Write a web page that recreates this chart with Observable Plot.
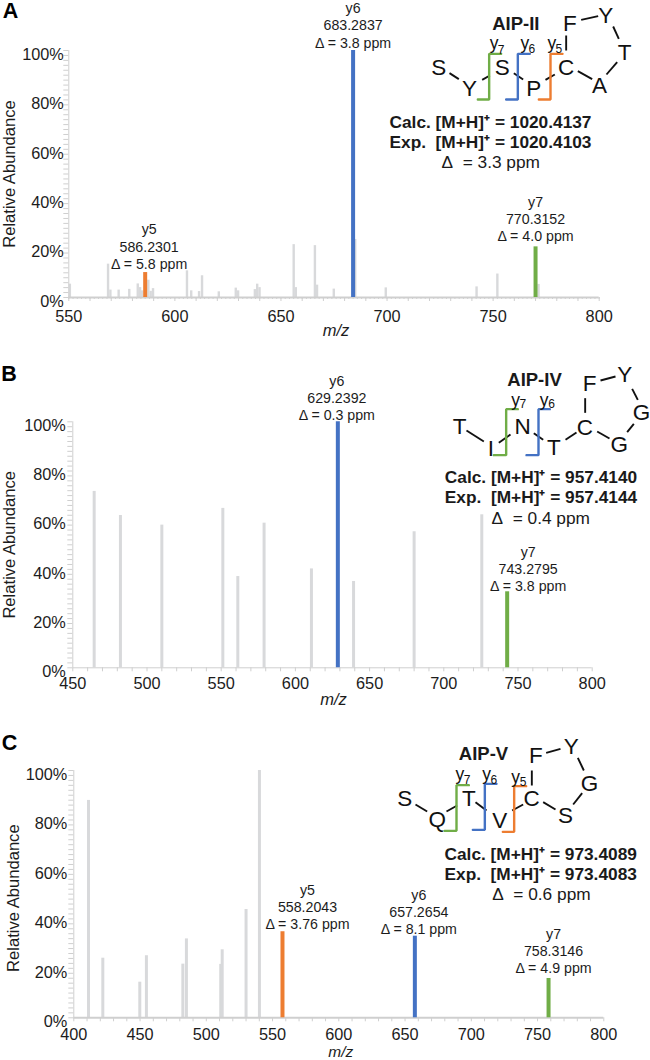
<!DOCTYPE html>
<html>
<head>
<meta charset="utf-8">
<script src="https://cdn.jsdelivr.net/npm/d3@7"></script>
<script src="https://cdn.jsdelivr.net/npm/@observablehq/plot@0.6"></script>
<style>
html,body{margin:0;padding:0;background:#fff}
#page{position:relative;width:650px;height:1060px;overflow:hidden;background:#fff}
#page svg{position:absolute;background:transparent;overflow:visible}
</style>
</head>
<body>
<div id="page"></div>
<script>
// ---------- Panel A: AIP-II ----------
const bgMzA  = [550.5,568.5,569.6,573.5,578.5,582.5,583.6,584.5,587.5,588.6,589.7,605.7,607.7,611.4,612.8,620.7,628.7,629.8,637.7,638.8,639.9,656,657,666,667,674.9,685,699.4,742.2,752,771.4];
const bgPctA = [5.4,13.5,3,3,3.3,5.5,4,2.7,7,2.5,3.6,10.8,2.7,2.4,8.8,2.3,3.8,2.7,3.2,5.4,4,21.4,4,21,5,3.4,23.5,3.9,4.3,9.5,5.3];
const fragNameA = ["y5","y6","y7"];
const fragMzA   = [586,684,770];
const fragPctA  = [10.1,100,20.5];
const fragMassA = ["586.2301","683.2837","770.3152"];
const fragPpmA  = ["5.8","3.8","4.0"];
// ---------- Panel B: AIP-IV ----------
const bgMzB  = [464.4,482.1,510,551.1,561.2,578.9,610.8,639.2,680,725.6];
const bgPctB = [71.7,61.9,58,64.8,37.1,58.8,40.2,35.1,55.3,62.2];
const fragNameB = ["y6","y7"];
const fragMzB   = [628.6,742.7];
const fragPctB  = [100,30.9];
const fragMassB = ["629.2392","743.2795"];
const fragPpmB  = ["0.3","3.8"];
// ---------- Panel C: AIP-V ----------
const bgMzC  = [411.1,421.9,449.8,454.8,482.3,485,510.9,512,530,540.1];
const bgPctC = [87.9,24.1,14.4,25.1,21.7,31.9,21.6,27.5,43.8,100];
const fragNameC = ["y5","y6","y7"];
const fragMzC   = [557.5,657.4,758.3];
const fragPctC  = [34.8,33,15.9];
const fragMassC = ["558.2043","657.2654","758.3146"];
const fragPpmC  = ["3.76","8.1","4.9"];

const xTicksA = [550,600,650,700,750,800];
const xTicksB = [450,500,550,600,650,700,750,800];
const xTicksC = [400,450,500,550,600,650,700,750,800];
const yTicks  = [0,20,40,60,80,100];

// Peptide schematics
const residuesA = ["S","Y","S","P","C","A","T","Y","F"];
const residuesB = ["T","I","N","T","C","G","G","Y","F"];
const residuesC = ["S","Q","T","V","C","S","G","Y","F"];
const massA = [["Calc.","1020.4137"],["Exp.","1020.4103"],["3.3"]];
const massB = [["Calc.","957.4140"],["Exp.","957.4144"],["0.4"]];
const massC = [["Calc.","973.4089"],["Exp.","973.4083"],["0.6"]];

// ---------- styling / layout ----------
const FONT = "'Liberation Sans', Arial, sans-serif";
const INK = "#1c1c1c", GREY = "#d8d9db", AXIS = "#cfcfcf";
const COL = {y5:"#ed7d31", y6:"#4472c4", y7:"#70ad47"};
const page = document.getElementById("page");

function panel(o){
  const marks = [
    Plot.ruleX(o.bgMz,{x:d=>d,y1:0,y2:(d,i)=>o.bgPct[i],stroke:GREY,strokeWidth:o.greyW}),
    Plot.axisY(d3.range(0,101,2),{tickSize:5,stroke:AXIS,fill:"none",label:null,tickFormat:null}),
    Plot.axisX(d3.range(o.xDomain[0],o.xDomain[1]+1,10),{tickSize:4,stroke:AXIS,fill:"none",label:null}),
    o.fineTicks ? Plot.axisX(d3.range(o.xDomain[0],o.xDomain[1]+1,2),{tickSize:2,stroke:AXIS,fill:"none",label:null}) : null,
    Plot.ruleY([0],{stroke:AXIS,strokeWidth:o.baseW}),
    Plot.ruleX([o.xDomain[0]],{stroke:AXIS,strokeWidth:1}),
    Plot.axisY(yTicks,{tickSize:0,tickPadding:o.yPad,dy:4,fontSize:16.3,fill:INK,stroke:"none",label:null,tickFormat:d=>d+"%"}),
    Plot.axisX(o.xTicks,{tickSize:0,tickPadding:o.xPad,fontSize:16.3,fill:INK,stroke:"none",label:null,tickFormat:d=>String(d)}),
    Plot.text(["Relative Abundance"],{frameAnchor:"left",rotate:-90,dx:o.yLabelX-o.marginLeft,dy:o.yLabelDy,fontSize:16.6,fill:INK,textAnchor:"middle",lineAnchor:"middle"}),
    Plot.text(["m/z"],{frameAnchor:"bottom",dx:o.mzDx,dy:o.mzDy,fontSize:o.mzSize,fontStyle:"italic",fill:INK,textAnchor:"middle",lineAnchor:"middle"}),
    Plot.text([o.letter],{frameAnchor:"top-left",dx:o.letterX-o.marginLeft,dy:o.letterY-o.marginTop,fontSize:21.5,fontWeight:"bold",fill:"#000",textAnchor:"middle",lineAnchor:"middle"})
  ];
  o.fragName.forEach((n,i)=>{
    marks.push(Plot.ruleX([o.fragMz[i]],{y1:0,y2:o.fragPct[i],stroke:COL[n],strokeWidth:4}));
    marks.push(Plot.text([`${n}\n${o.fragMass[i]}\nΔ = ${o.fragPpm[i]} ppm`],{
      x:o.fragMz[i],y:o.fragPct[i],dx:o.labelOff[i][0],dy:o.labelOff[i][1],
      fontSize:14.2,lineHeight:1.2,fill:INK,textAnchor:"middle",lineAnchor:"bottom"}));
  });
  const svg = Plot.plot({
    width:650,height:o.height,marginLeft:o.marginLeft,marginRight:o.marginRight,marginTop:o.marginTop,marginBottom:o.marginBottom,
    x:{domain:o.xDomain,axis:null},y:{domain:[0,100],axis:null},
    style:{fontFamily:FONT,background:"transparent"},
    marks:marks.filter(Boolean)
  });
  svg.style.left="0px"; svg.style.top=o.top+"px";
  page.appendChild(svg);
}

// Schematic is drawn in its own 3x coordinate system, one plot per panel.
function schematic(s){
  const W=s.w,H=s.h;
  const bonds=s.bonds.map(b=>({x1:b[0],y1:b[1],x2:b[2],y2:b[3]}));
  const marks=[
    Plot.link(bonds,{x1:"x1",y1:"y1",x2:"x2",y2:"y2",stroke:"#111",strokeWidth:1.9}),
    ...s.brackets.map(b=>Plot.line(b.pts,{x:d=>d[0],y:d=>d[1],stroke:COL[b.n],strokeWidth:2.4,curve:"linear",strokeLinejoin:"miter"})),
    Plot.text(s.residues,{x:(d,i)=>s.pos[i][0],y:(d,i)=>s.pos[i][1],text:d=>d,fontSize:22.5,fill:"#111",textAnchor:"middle",lineAnchor:"middle"}),
    Plot.text([s.title],{x:s.titlePos[0],y:s.titlePos[1],fontSize:18.5,fontWeight:"bold",fill:"#1a1a1a",textAnchor:"middle",lineAnchor:"middle"}),
    ...s.brackets.map(b=>Plot.text([b.n[0]],{x:b.lab[0],y:b.lab[1],fontSize:17.5,fill:"#111",textAnchor:"middle",lineAnchor:"middle"})),
    ...s.brackets.map(b=>Plot.text([b.n[1]],{x:b.sub[0],y:b.sub[1],fontSize:12,fill:"#111",textAnchor:"middle",lineAnchor:"middle"})),
    Plot.text([`${s.mass[0][0]} [M+H]⁺ = ${s.mass[0][1]}`],{x:s.massX,y:s.massY[0],fontSize:17.3,fontWeight:"bold",fill:"#1a1a1a",textAnchor:"start",lineAnchor:"middle"}),
    Plot.text([`${s.mass[1][0]}\u00a0\u00a0[M+H]⁺ = ${s.mass[1][1]}`],{x:s.massX,y:s.massY[1],fontSize:17.3,fontWeight:"bold",fill:"#1a1a1a",textAnchor:"start",lineAnchor:"middle"}),
    Plot.text([`Δ\u00a0\u00a0= ${s.mass[2][0]} ppm`],{x:s.deltaX,y:s.massY[2],fontSize:17.3,fill:"#1a1a1a",textAnchor:"start",lineAnchor:"middle"})
  ];
  const svg=Plot.plot({width:W,height:H,margin:0,
    x:{domain:[0,W*3],range:[0,W],axis:null},y:{domain:[0,H*3],range:[0,H],axis:null},
    style:{fontFamily:FONT,background:"transparent"},marks});
  svg.style.left=s.left+"px"; svg.style.top=s.top+"px";
  page.appendChild(svg);
}

panel({letter:"A",letterX:10,letterY:11,top:0,height:340,marginLeft:68.3,marginRight:51.3,marginTop:50,marginBottom:43,
  xDomain:[550,800],xTicks:xTicksA,bgMz:bgMzA,bgPct:bgPctA,fragName:fragNameA,fragMz:fragMzA,fragPct:fragPctA,fragMass:fragMassA,fragPpm:fragPpmA,
  labelOff:[[4,-4],[0,-3],[0,-6]],greyW:2.4,baseW:2,yPad:5,xPad:13,yLabelX:9,yLabelDy:0,mzDx:2,mzDy:33,mzSize:16.5,fineTicks:true});
panel({letter:"B",letterX:8.5,letterY:374,top:0,height:710,marginLeft:72.3,marginRight:58.3,marginTop:421.3,marginBottom:42.7,
  xDomain:[450,800],xTicks:xTicksB,bgMz:bgMzB,bgPct:bgPctB,fragName:fragNameB,fragMz:fragMzB,fragPct:fragPctB,fragMass:fragMassB,fragPpm:fragPpmB,
  labelOff:[[-1,-2],[21,-1]],greyW:3,baseW:1,yPad:7,xPad:10,yLabelX:9.5,yLabelDy:0,mzDx:1,mzDy:32,mzSize:16.5,fineTicks:false});
panel({letter:"C",letterX:9,letterY:743,top:0,height:1060,marginLeft:73.3,marginRight:46.7,marginTop:770,marginBottom:42.7,
  xDomain:[400,800],xTicks:xTicksC,bgMz:bgMzC,bgPct:bgPctC,fragName:fragNameC,fragMz:fragMzC,fragPct:fragPctC,fragMass:fragMassC,fragPpm:fragPpmC,
  labelOff:[[25,-3],[4,-2],[5,-5]],greyW:3,baseW:2,yPad:6.5,xPad:10.5,yLabelX:13,yLabelDy:4,mzDx:2,mzDy:34.5,mzSize:15.5,fineTicks:false});

schematic({left:370,top:0,w:280,h:180,title:"AIP-II",titlePos:[436,72],residues:residuesA,
  pos:[[205,202],[297,265],[395,202],[490,265],[587,202],[687,255],[762,158],[706,45],[598,70]],
  bonds:[[237,218,265,236],[335,238,358,225],[430,218,458,237],[525,238,553,222],[622,212,665,236],[708,222,740,185],[745,115,728,78],[683,47,632,58],[587,150,587,105]],
  brackets:[{n:"y7",lab:[371,130],sub:[392,148],pts:[[322,297],[356,297],[356,160],[392,160]]},
            {n:"y6",lab:[463,130],sub:[484,147],pts:[[407,297],[442,297],[442,160],[478,160]]},
            {n:"y5",lab:[544,130],sub:[565,147],pts:[[505,297],[540,297],[540,160],[576,160]]}],
  mass:massA,massX:57,deltaX:213,massY:[365,425,487]});
schematic({left:420,top:360,w:230,h:180,title:"AIP-IV",titlePos:[342,58],residues:residuesB,
  pos:[[117,198],[211,265],[306,200],[400,263],[493,203],[596,253],[663,157],[613,42],[507,70]],
  bonds:[[138,210,190,243],[235,247,270,222],[340,218,368,238],[435,238,468,216],[530,213,567,234],[620,215,640,190],[652,118,635,85],[585,48,540,60],[494,157,494,113]],
  brackets:[{n:"y7",lab:[285,120],sub:[307,132],pts:[[220,284],[257,284],[257,146],[292,146]]},
            {n:"y6",lab:[371,120],sub:[393,132],pts:[[318,284],[354,284],[354,146],[388,146]]}],
  mass:massB,massX:73,deltaX:213,massY:[352,412,473]});
schematic({left:380,top:730,w:270,h:180,title:"AIP-V",titlePos:[309,72],residues:residuesC,
  pos:[[73,205],[170,268],[265,205],[358,270],[453,205],[555,255],[627,160],[572,50],[466,75]],
  bonds:[[105,222,140,243],[198,243,230,225],[285,215,318,240],[395,240,428,222],[488,215,525,237],[578,222,605,188],[610,120,592,82],[540,55,497,67],[454,165,454,120]],
  brackets:[{n:"y7",lab:[238,132],sub:[260,148],pts:[[192,301],[228,301],[228,164],[265,164]]},
            {n:"y6",lab:[318,132],sub:[340,148],pts:[[277,298],[313,298],[313,160],[348,160]]},
            {n:"y5",lab:[405,140],sub:[428,155],pts:[[367,304],[401,304],[401,167],[437,167]]}],
  mass:massC,massX:192,deltaX:335,massY:[372,432,492]});
</script>
</body>
</html>
